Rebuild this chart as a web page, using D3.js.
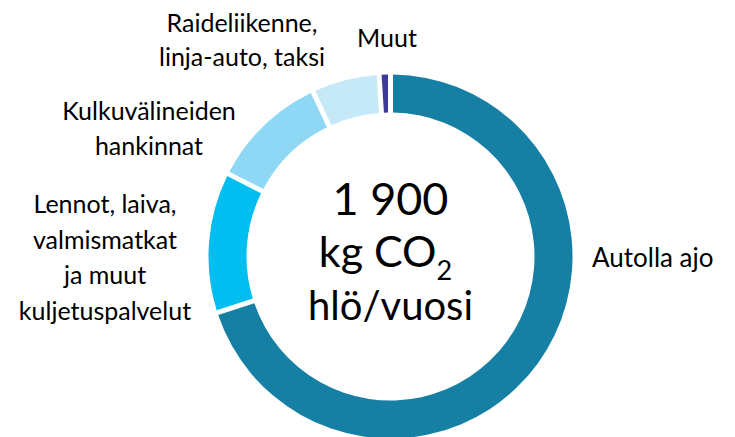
<!DOCTYPE html>
<html>
<head>
<meta charset="utf-8">
<script src="https://cdn.jsdelivr.net/npm/d3@7"></script>
<style>
  body { margin: 0; background: #fff; }
  text { font-family: Lato, "Open Sans", sans-serif; fill: #000; }
</style>
</head>
<body>
<div id="chart-container"></div>
<script>
// Data (share of per-person transport emissions, %)
const categories = ["Autolla ajo", "Lennot, laiva, valmismatkat ja muut kuljetuspalvelut",
                    "Kulkuvälineiden hankinnat", "Raideliikenne, linja-auto, taksi", "Muut"];
const values = [70, 12.5, 10.5, 6, 1];
const labelLines = [
  ["Autolla ajo"],
  ["Lennot, laiva,", "valmismatkat", "ja muut", "kuljetuspalvelut"],
  ["Kulkuvälineiden", "hankinnat"],
  ["Raideliikenne,", "linja-auto, taksi"],
  ["Muut"]
];
const colors = ["#157fa4", "#00bff0", "#8fd8f5", "#c6e9f8", "#3e3b98"];
const centerTotal = "1 900";

// Layout
const width = 735, height = 437;
const cx = 390.5, cy = 256.5;
const outerR = 182, innerR = 144;
// label anchor (x, first baseline y, line step)
const labelPos = [
  { x: 592, y: 267, step: 34, anchor: "start" },
  { x: 105, y: 213, step: 35.5, anchor: "middle" },
  { x: 149, y: 120, step: 35, anchor: "middle" },
  { x: 242, y: 32, step: 33.5, anchor: "middle" },
  { x: 387, y: 47, step: 34, anchor: "middle" }
];

const svg = d3.select("#chart-container")
              .append("svg")
              .attr("width", width)
              .attr("height", height);

const pie = d3.pie().sort(null).value(d => d);
const arc = d3.arc()
              .innerRadius(innerR)
              .outerRadius(outerR)
              .padAngle(0.05)
              .padRadius(100);

const g = svg.append("g").attr("transform", `translate(${cx}, ${cy})`);

g.selectAll("path")
 .data(pie(values))
 .join("path")
 .attr("d", arc)
 .attr("fill", (d, i) => colors[i]);

// Category labels
labelLines.forEach((lines, i) => {
  const p = labelPos[i];
  const t = svg.append("text")
               .attr("text-anchor", p.anchor)
               .style("font-size", i === 0 ? "26px" : "25px");
  lines.forEach((line, j) => {
    t.append("tspan")
     .attr("x", p.x)
     .attr("y", p.y + j * p.step)
     .text(line);
  });
});

// Centre text
svg.append("text").attr("text-anchor", "middle")
   .attr("x", cx).attr("y", 215)
   .style("font-size", "45px").text(centerTotal);
const l2 = svg.append("text").attr("text-anchor", "middle")
              .attr("x", cx - 5).attr("y", 267).style("font-size", "43px");
l2.append("tspan").text("kg CO");
l2.append("tspan").attr("dy", 13).style("font-size", "27px").text("2");
svg.append("text").attr("text-anchor", "middle")
   .attr("x", cx).attr("y", 320).style("font-size", "40px").text("hlö/vuosi");
</script>
</body>
</html>
